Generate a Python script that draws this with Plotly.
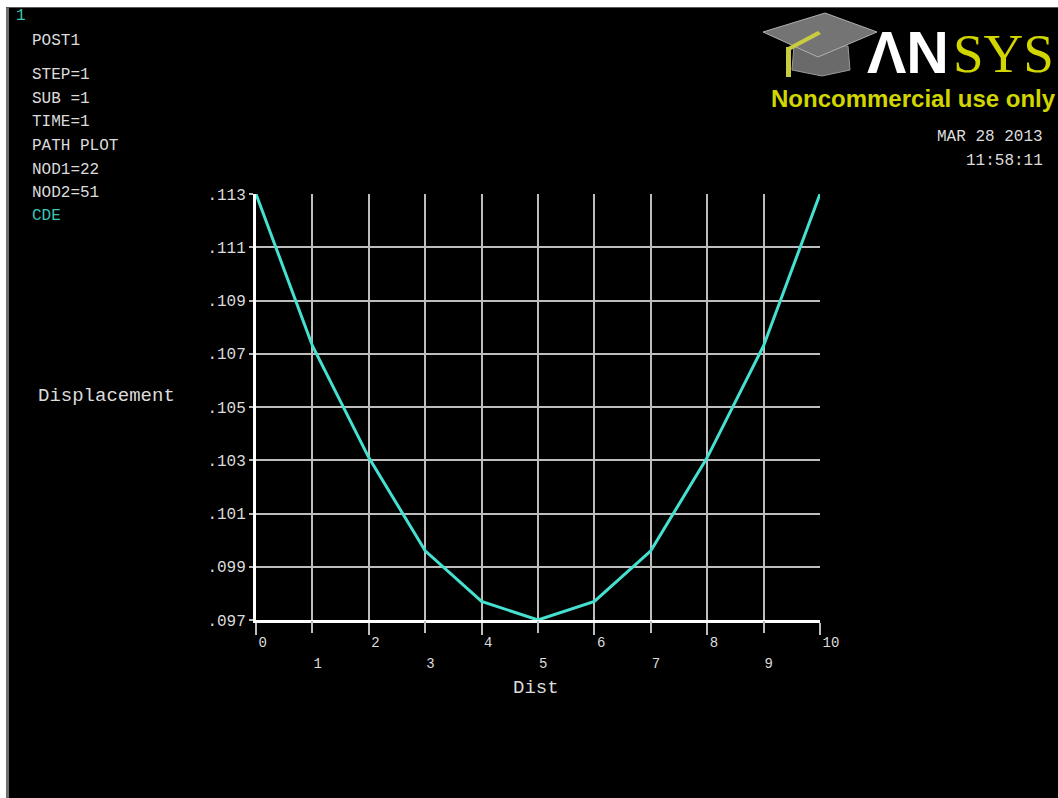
import plotly.graph_objects as go

# ---------------- data ----------------
dist = [0, 1, 2, 3, 4, 5, 6, 7, 8, 9, 10]
displacement = [0.1130, 0.1073, 0.1031, 0.0996, 0.0977, 0.0970,
                0.0977, 0.0996, 0.1031, 0.1073, 0.1130]
x_even_ticks = [0, 2, 4, 6, 8, 10]
x_even_text = ["0", "2", "4", "6", "8", "10"]
x_odd_ticks = [1, 3, 5, 7, 9]
x_odd_text = ["1", "3", "5", "7", "9"]
y_tick_vals = [0.097, 0.099, 0.101, 0.103, 0.105, 0.107, 0.109, 0.111, 0.113]
y_tick_text = [".097", ".099", ".101", ".103", ".105", ".107", ".109", ".111", ".113"]
info_lines = ["POST1", "STEP=1", "SUB =1", "TIME=1", "PATH PLOT", "NOD1=22", "NOD2=51"]
info_y = [41, 75, 99, 122, 146, 170, 193]
window_no = "1"
curve_label = "CDE"
date_text = "MAR 28 2013"
time_text = "11:58:11"
x_title = "Dist"
y_title = "Displacement"

# ---------------- layout helpers ----------------
W, H = 1058, 798
L, R, T, B = 256, 820, 194, 620


def fx(px):
    return (px - L) / (R - L)


def fy(py):
    return (B - py) / (B - T)


MONO = "Liberation Mono"
TXT = "#dcdcdc"
CYAN = "#3fc4b4"
YEL = "#d2d600"
GRID = "#bdbdbd"

fig = go.Figure()
fig.add_trace(go.Scatter(x=dist, y=displacement, mode="lines",
                         line=dict(color="#46e0d0", width=3),
                         hoverinfo="x+y", showlegend=False))
# helper trace so the overlaying axis (odd tick labels) is drawn
fig.add_trace(go.Scatter(x=[dist[0], dist[-1]], y=[displacement[0], displacement[-1]],
                         xaxis="x2", mode="none", hoverinfo="skip", showlegend=False))

annotations = []


def txt(text, px, py, size=16, color=TXT, family=MONO, anchor="left", **kw):
    annotations.append(dict(text=text, x=fx(px), y=fy(py), xref="paper", yref="paper",
                            xanchor=anchor, yanchor="middle", showarrow=False,
                            font=dict(family=family, size=size, color=color), **kw))


txt(window_no, 14, 16, size=16, color=CYAN)
for line, yy in zip(info_lines, info_y):
    txt(line, 30, yy, size=16)
txt(curve_label, 30, 216, size=16, color=CYAN)
txt(y_title, 36, 396, size=19)
txt(x_title, 511, 688, size=19)
txt(date_text, 1045, 137, size=16, anchor="right")
txt(time_text, 1045, 161, size=16, anchor="right")
txt("<b>Noncommercial use only</b>", 1057, 98, size=24, color=YEL,
    family="Liberation Sans", anchor="right", height=28, borderpad=0)
txt("<b>ΛN</b>", 866, 53, size=59, color="white", family="Liberation Sans",
    height=44, borderpad=0)
txt("SYS", 952, 53, size=55, color=YEL, family="Liberation Serif",
    height=44, borderpad=0)

shapes = []


def path(points, fill, line_color=None, width=0):
    d = "M " + " L ".join(f"{fx(a):.5f},{fy(b):.5f}" for a, b in points) + " Z"
    shapes.append(dict(type="path", xref="paper", yref="paper", path=d,
                       fillcolor=fill, line=dict(color=line_color or fill, width=width),
                       layer="above"))


def rect(x0, y0, x1, y1, color):
    shapes.append(dict(type="rect", xref="paper", yref="paper",
                       x0=fx(x0), x1=fx(x1), y0=fy(y1), y1=fy(y0),
                       fillcolor=color, line=dict(width=0), layer="above"))


# window border (white frame on top and left)
rect(0, 0, W, 7, "white")
rect(0, 0, 6, H, "white")
rect(6, 7, 9, H, "#6e6e6e")
rect(6, 7, W, 8, "#5a5a5a")

# graduation cap logo
path([(794, 46), (848, 46), (850, 70), (822, 76), (792, 70)], "#6a6a6a", "#9a9a9a", 1)
path([(763, 32), (825, 13), (877, 32), (818, 57)], "#747474", "#b0b0b0", 1)
path([(818, 31), (821, 34), (791, 50), (788, 47)], "#c8cc40")
rect(786, 47, 791, 77, "#c8cc40")

fig.update_layout(
    width=W, height=H,
    margin=dict(l=L, r=W - R, t=T, b=H - B, pad=0),
    paper_bgcolor="black", plot_bgcolor="black",
    annotations=annotations, shapes=shapes,
    showlegend=False,
    xaxis=dict(range=[0, 10], tickvals=x_even_ticks, ticktext=x_even_text,
               showgrid=True, gridcolor=GRID, gridwidth=2,
               ticks="outside", ticklen=12, tickcolor=GRID, tickwidth=2,
               ticklabelposition="outside right", ticklabelstandoff=7,
               tickfont=dict(family=MONO, size=14, color=TXT),
               showline=True, linecolor="white", linewidth=3,
               zeroline=False, fixedrange=True),
    xaxis2=dict(range=[0, 10], overlaying="x", anchor="y", side="bottom",
                tickvals=x_odd_ticks, ticktext=x_odd_text,
                showgrid=True, gridcolor=GRID, gridwidth=2,
                ticks="outside", ticklen=12, tickcolor=GRID, tickwidth=2,
                ticklabelposition="outside right", ticklabelstandoff=30,
                tickfont=dict(family=MONO, size=14, color=TXT),
                showline=False, zeroline=False, fixedrange=True),
    yaxis=dict(range=[0.097, 0.113], tickvals=y_tick_vals, ticktext=y_tick_text,
               showgrid=True, gridcolor=GRID, gridwidth=2,
               ticks="outside", ticklen=4, tickcolor=GRID, tickwidth=2,
               tickfont=dict(family=MONO, size=16, color=TXT),
               showline=True, linecolor="white", linewidth=3,
               zeroline=False, fixedrange=True),
)

fig.write_html("out.html", config={"displayModeBar": False},
               post_script="document.body.style.margin='0';"
                           "document.body.style.overflow='hidden';")
